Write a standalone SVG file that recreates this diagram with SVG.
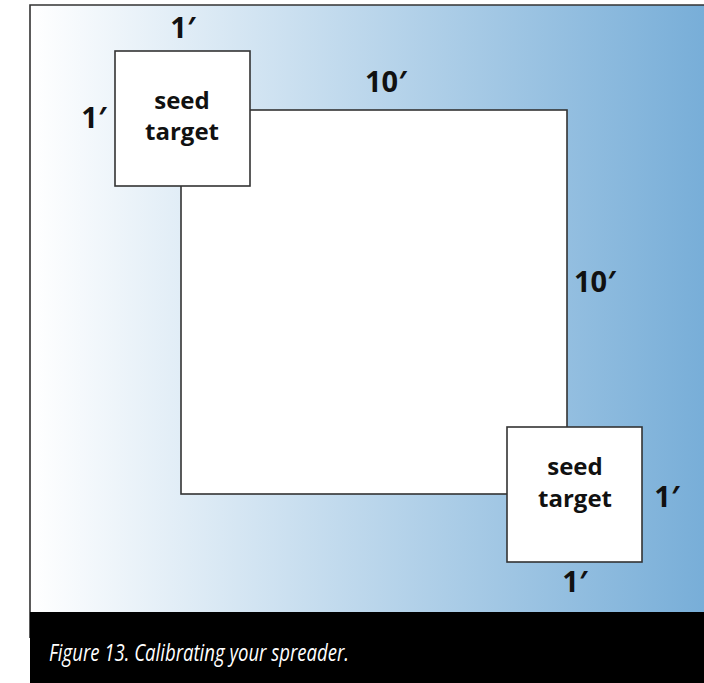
<svg xmlns="http://www.w3.org/2000/svg" width="704" height="683" viewBox="0 0 704 683">
  <defs>
    <linearGradient id="bg" x1="30" y1="0" x2="704" y2="0" gradientUnits="userSpaceOnUse">
      <stop offset="0" stop-color="#ffffff"/>
      <stop offset="1" stop-color="#78aed8"/>
    </linearGradient>
  </defs>
  <style>
    .box { fill: #ffffff; stroke: #333333; stroke-width: 1.6; }
    .lbl { font-family: "Open Sans", "Liberation Sans", sans-serif; font-weight: bold; font-size: 24px; fill: #111111; text-anchor: middle; }
    .dim { font-family: "Open Sans", "Liberation Sans", sans-serif; font-weight: bold; font-size: 29px; fill: #111111; text-anchor: middle; }
    .cap { font-family: "Open Sans", "Liberation Sans", sans-serif; font-style: italic; font-size: 24px; fill: #ffffff; }
  </style>
  <rect x="0" y="0" width="704" height="683" fill="#ffffff"/>
  <rect x="30" y="5" width="674" height="607" fill="url(#bg)"/>
  <path d="M30 638 V5 H704" fill="none" stroke="#333333" stroke-width="1.6"/>

  <g id="field">
    <rect class="box" x="181" y="110" width="386" height="384"/>
    <text class="dim" x="386" y="92">10′</text>
    <text class="dim" x="595" y="292">10′</text>
  </g>

  <g id="seed-target-1">
    <rect class="box" x="115" y="51" width="135" height="135"/>
    <text class="lbl" x="182" y="109">seed</text>
    <text class="lbl" x="182" y="140">target</text>
    <text class="dim" x="183" y="38">1′</text>
    <text class="dim" x="94" y="128">1′</text>
  </g>

  <g id="seed-target-2">
    <rect class="box" x="507" y="427" width="135" height="135"/>
    <text class="lbl" x="575" y="475">seed</text>
    <text class="lbl" x="575" y="507">target</text>
    <text class="dim" x="667" y="507">1′</text>
    <text class="dim" x="575" y="592">1′</text>
  </g>

  <g id="connectors"></g>

  <g id="caption">
    <rect x="30" y="612" width="674" height="71" fill="#000000"/>
    <text class="cap" x="49" y="661" textLength="300" lengthAdjust="spacingAndGlyphs">Figure 13. Calibrating your spreader.</text>
  </g>
</svg>
